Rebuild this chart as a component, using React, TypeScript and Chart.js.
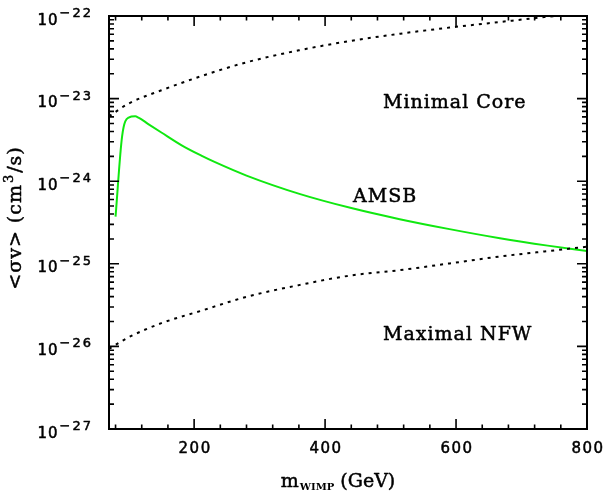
import React, { useEffect, useRef } from "react";
import { Chart, registerables } from "chart.js";

Chart.register(...registerables);

// ---- axes ----
const X_MIN = 70;
const X_MAX = 800;
const Y_MIN = 1e-27;
const Y_MAX = 1e-22;
const X_MAJOR_TICKS = [200, 400, 600, 800];
const X_MINOR_TICKS = [80, 120, 160, 240, 280, 320, 360, 440, 480, 520, 560, 640, 680, 720, 760];
const Y_DECADES = [-27, -26, -25, -24, -23, -22];
const Y_MINOR_MULTIPLIERS = [2, 3, 4, 5, 6, 7, 8, 9];

// ---- data (m_WIMP in GeV, <sigma v> in cm^3/s) ----
const MASS = [70, 100, 150, 210, 280, 360, 440, 515, 590, 665, 735, 800];
const MINIMAL_CORE = [6.11e-24, 8.71e-24, 1.26e-23, 1.86e-23, 2.75e-23, 3.84e-23, 5.01e-23, 6.11e-23, 7.24e-23, 8.43e-23, 9.7e-23, 1.1e-22];
const MAXIMAL_NFW = [9.33e-27, 1.29e-26, 1.91e-26, 2.69e-26, 3.98e-26, 5.52e-26, 7.24e-26, 8.39e-26, 1.01e-25, 1.22e-25, 1.41e-25, 1.61e-25];
const AMSB_MASS = [80, 90, 100, 110, 115, 130, 150, 181, 211, 232, 280, 362, 440, 514, 590, 667, 740, 800];
const AMSB = [3.72e-25, 3.5e-24, 5.89e-24, 6.11e-24, 5.89e-24, 4.92e-24, 3.89e-24, 2.72e-24, 2.04e-24, 1.7e-24, 1.17e-24, 6.98e-25, 4.73e-25, 3.47e-25, 2.63e-25, 2.04e-25, 1.66e-25, 1.43e-25];

// ---- texts ----
const LABEL_MINIMAL = "Minimal Core";
const LABEL_AMSB = "AMSB";
const LABEL_NFW = "Maximal NFW";

const SERIF = '"DejaVu Serif"';
const SANS = '"DejaVu Sans"';

const toPoints = (xs: number[], ys: number[]) => xs.map((x, i) => ({ x, y: ys[i] }));

// fill text and give it a slightly heavier stroke, like the reference's print fonts
function heavyText(ctx: CanvasRenderingContext2D, s: string, x: number, y: number) {
  ctx.fillText(s, x, y);
  ctx.strokeText(s, x, y);
}

const framePlugin = {
  id: "frameAndText",
  afterDatasetsDraw(chart: any) {
    const { ctx, chartArea: a } = chart;
    const xs = chart.scales.x;
    const ys = chart.scales.y;
    ctx.save();
    ctx.strokeStyle = "#000";
    ctx.fillStyle = "#000";
    ctx.lineWidth = 2;
    ctx.strokeRect(a.left, a.top, a.right - a.left, a.bottom - a.top);

    // inward ticks on all sides
    ctx.lineWidth = 1.6;
    ctx.beginPath();
    for (const t of xs.ticks) {
      const px = xs.getPixelForValue(t.value);
      const len = t.major ? 10 : 4.5;
      ctx.moveTo(px, a.bottom);
      ctx.lineTo(px, a.bottom - len);
      ctx.moveTo(px, a.top);
      ctx.lineTo(px, a.top + len);
    }
    for (const t of ys.ticks) {
      const py = ys.getPixelForValue(t.value);
      const len = t.major ? 10 : 5;
      ctx.moveTo(a.left, py);
      ctx.lineTo(a.left + len, py);
      ctx.moveTo(a.right, py);
      ctx.lineTo(a.right - len, py);
    }
    ctx.stroke();

    ctx.lineWidth = 0.5;
    ctx.lineJoin = "round";

    // x tick labels
    ctx.font = `15px ${SANS}`;
    (ctx as any).letterSpacing = "1.5px";
    ctx.textAlign = "center";
    ctx.textBaseline = "alphabetic";
    for (const v of X_MAJOR_TICKS) {
      const px = xs.getPixelForValue(v);
      heavyText(ctx, String(v), px + 1, 453);
    }

    // y tick labels: 10^n
    ctx.textAlign = "left";
    for (const n of Y_DECADES) {
      const py = ys.getPixelForValue(Number(`1e${n}`));
      const base = "10";
      const sup = "\u2212" + String(-n);
      ctx.font = `15px ${SANS}`;
      (ctx as any).letterSpacing = "1px";
      const wb = ctx.measureText(base).width;
      ctx.font = `13px ${SANS}`;
      (ctx as any).letterSpacing = "2px";
      const ws = ctx.measureText(sup).width;
      const right = 93;
      const x0 = right - wb - ws - 1;
      ctx.font = `15px ${SANS}`;
      (ctx as any).letterSpacing = "1px";
      heavyText(ctx, base, x0, py + 8.5);
      ctx.font = `13px ${SANS}`;
      (ctx as any).letterSpacing = "2px";
      heavyText(ctx, sup, x0 + wb + 1, py + 1);
    }
    (ctx as any).letterSpacing = "0px";

    // x title: m_WIMP (GeV)
    {
      const f1 = `19px ${SERIF}`;
      const f2 = `bold 10px ${SERIF}`;
      ctx.font = f1;
      const w1 = ctx.measureText("m").width;
      const w3 = ctx.measureText(" (GeV)").width;
      ctx.font = f2;
      const w2 = ctx.measureText("WIMP").width;
      const cx = (a.left + a.right) / 2 - 10;
      let x0 = cx - (w1 + w2 + w3 + 1) / 2;
      const by = 487;
      ctx.textAlign = "left";
      ctx.font = f1;
      heavyText(ctx, "m", x0, by);
      x0 += w1 + 1;
      ctx.font = f2;
      ctx.fillText("WIMP", x0, by + 3);
      x0 += w2;
      ctx.font = f1;
      heavyText(ctx, " (GeV)", x0, by);
    }

    // y title: <σv> (cm^3/s)
    {
      const f1 = `19px ${SERIF}`;
      const f2 = `13px ${SERIF}`;
      const p1 = "<\u03c3v> (cm";
      const p2 = "3";
      const p3 = "/s)";
      (ctx as any).letterSpacing = "1px";
      ctx.font = f1;
      const w1 = ctx.measureText(p1).width;
      const w3 = ctx.measureText(p3).width;
      ctx.font = f2;
      const w2 = ctx.measureText(p2).width;
      ctx.translate(21, 218);
      ctx.rotate(-Math.PI / 2);
      let x0 = -(w1 + w2 + w3 + 2) / 2;
      ctx.textAlign = "left";
      ctx.font = f1;
      heavyText(ctx, p1, x0, 0);
      x0 += w1 + 1;
      ctx.font = f2;
      heavyText(ctx, p2, x0, -8);
      x0 += w2 + 1;
      ctx.font = f1;
      heavyText(ctx, p3, x0, 0);
      ctx.setTransform(1, 0, 0, 1, 0, 0);
      (ctx as any).letterSpacing = "0px";
    }

    // curve annotations
    ctx.font = `19px ${SERIF}`;
    (ctx as any).letterSpacing = "1px";
    ctx.textAlign = "left";
    heavyText(ctx, LABEL_MINIMAL, 383, 108);
    heavyText(ctx, LABEL_AMSB, 353, 202);
    heavyText(ctx, LABEL_NFW, 383, 340);
    (ctx as any).letterSpacing = "0px";
    ctx.restore();
  },
};

export default function App() {
  const ref = useRef<HTMLCanvasElement | null>(null);

  useEffect(() => {
    document.body.style.margin = "0";
    const canvas = ref.current;
    if (!canvas) return;
    const chart = new Chart(canvas, {
      type: "line",
      data: {
        datasets: [
          {
            label: "Minimal Core",
            data: toPoints(MASS, MINIMAL_CORE),
            borderColor: "#000",
            borderWidth: 2,
            borderDash: [3, 5],
            pointRadius: 0,
            cubicInterpolationMode: "monotone",
            fill: false,
          },
          {
            label: "Maximal NFW",
            data: toPoints(MASS, MAXIMAL_NFW),
            borderColor: "#000",
            borderWidth: 2,
            borderDash: [3, 5],
            pointRadius: 0,
            cubicInterpolationMode: "monotone",
            fill: false,
          },
          {
            label: "AMSB",
            data: toPoints(AMSB_MASS, AMSB),
            borderColor: "#10e810",
            borderWidth: 2,
            pointRadius: 0,
            cubicInterpolationMode: "monotone",
            fill: false,
          },
        ],
      },
      options: {
        responsive: false,
        animation: false,
        events: [],
        layout: { padding: { left: 0, right: 19, top: 16, bottom: 0 } },
        plugins: { legend: { display: false }, tooltip: { enabled: false }, title: { display: false } },
        scales: {
          x: {
            type: "linear",
            min: X_MIN,
            max: X_MAX,
            grid: { display: false },
            border: { display: false },
            ticks: { display: false, autoSkip: false },
            afterBuildTicks: (scale: any) => {
              const t = [
                ...X_MINOR_TICKS.map((v) => ({ value: v, major: false })),
                ...X_MAJOR_TICKS.map((v) => ({ value: v, major: true })),
              ].sort((p, q) => p.value - q.value);
              scale.ticks = t;
            },
            afterFit: (scale: any) => {
              scale.height = 64;
            },
          },
          y: {
            type: "logarithmic",
            min: Y_MIN,
            max: Y_MAX,
            grid: { display: false },
            border: { display: false },
            ticks: { display: false, autoSkip: false },
            afterBuildTicks: (scale: any) => {
              const t: { value: number; major: boolean }[] = [];
              for (const n of Y_DECADES) {
                t.push({ value: Number(`1e${n}`), major: true });
                if (n < Y_DECADES[Y_DECADES.length - 1]) {
                  for (const k of Y_MINOR_MULTIPLIERS) t.push({ value: Number(`${k}e${n}`), major: false });
                }
              }
              scale.ticks = t;
            },
            afterFit: (scale: any) => {
              scale.width = 109;
            },
          },
        },
      },
      plugins: [framePlugin],
    });
    return () => chart.destroy();
  }, []);

  return (
    <div style={{ width: 606, height: 493, background: "#fff" }}>
      <canvas ref={ref} width={606} height={493} style={{ display: "block" }} />
    </div>
  );
}
